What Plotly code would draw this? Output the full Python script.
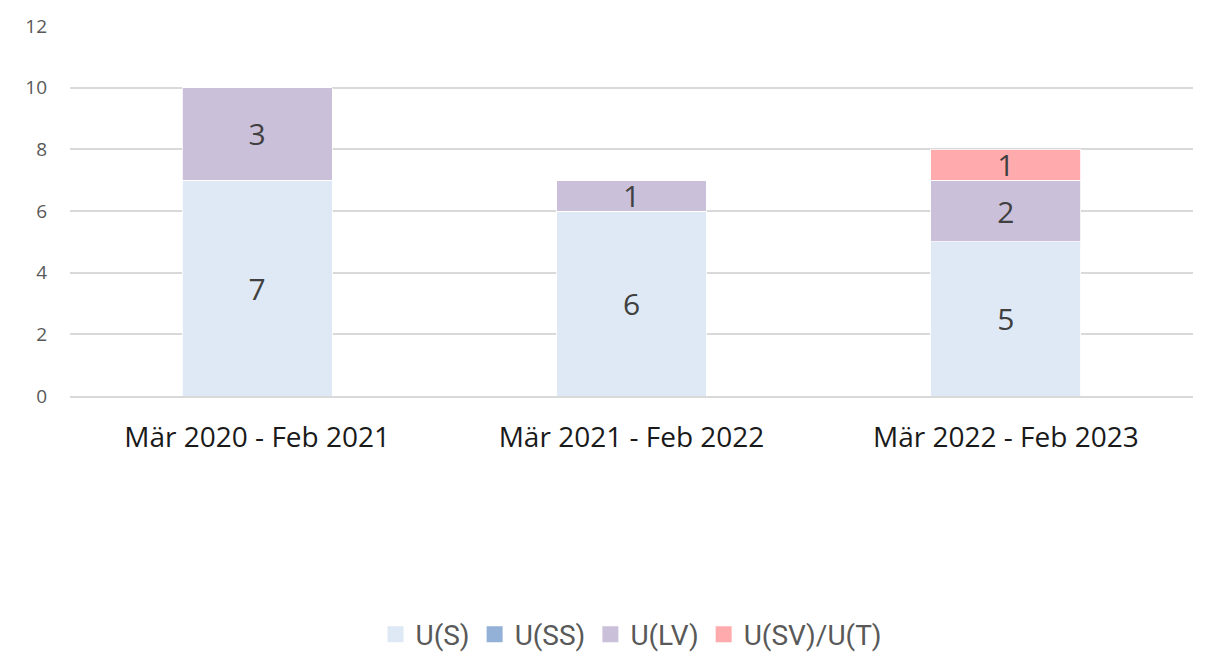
import plotly.graph_objects as go

categories = ["Mär 2020 - Feb 2021", "Mär 2021 - Feb 2022", "Mär 2022 - Feb 2023"]
series_names = ["U(S)", "U(SS)", "U(LV)", "U(SV)/U(T)"]
u_s = [7, 6, 5]
u_ss = [0, 0, 0]
u_lv = [3, 1, 2]
u_sv = [0, 0, 1]
colors = ["#DEE9F5", "#93B1D6", "#CAC0DA", "#FFABAD"]
y_ticks = [0, 2, 4, 6, 8, 10, 12]

fig = go.Figure()
for name, vals, col in zip(series_names, [u_s, u_ss, u_lv, u_sv], colors):
    fig.add_trace(go.Bar(
        name=name, x=categories, y=vals, legendgroup=name, showlegend=False,
        marker=dict(color=col, line=dict(color="white", width=0.8)),
        text=[str(v) if v else "" for v in vals],
        textposition="inside", insidetextanchor="middle", textangle=0,
        textfont=dict(size=30, color="#404040", family="Open Sans"),
        constraintext="none",
    ))
# legend entries with larger square symbols
for name, col in zip(series_names, colors):
    fig.add_trace(go.Scatter(
        name=name, x=[None], y=[None], mode="markers", legendgroup=name,
        marker=dict(symbol="square", size=20, color=col),
        showlegend=True, hoverinfo="skip",
    ))

fig.update_layout(
    barmode="stack", bargap=0.6,
    width=1193, height=651,
    margin=dict(l=62, r=8, t=18, b=263, autoexpand=False),
    plot_bgcolor="white", paper_bgcolor="white",
    font=dict(family="Open Sans", color="#595959"),
    showlegend=True,
    legend=dict(orientation="h", x=0.5, xanchor="center", y=-0.645, yanchor="middle",
                font=dict(size=28, color="#595959", family="Roboto"), traceorder="normal",
                itemsizing="trace", itemwidth=30, tracegroupgap=0),
    xaxis=dict(tickfont=dict(size=28, color="#1a1a1a"), showline=True,
               linecolor="#d9d9d9", linewidth=1.5, ticks="", showgrid=False,
               ticklabelstandoff=16),
    yaxis=dict(range=[0, 12], tickvals=y_ticks, tickfont=dict(size=19, color="#595959"),
               showgrid=True, gridcolor="#d9d9d9", gridwidth=1.5, zeroline=False,
               ticklabelstandoff=22),
)

fig.write_html("out.html")
